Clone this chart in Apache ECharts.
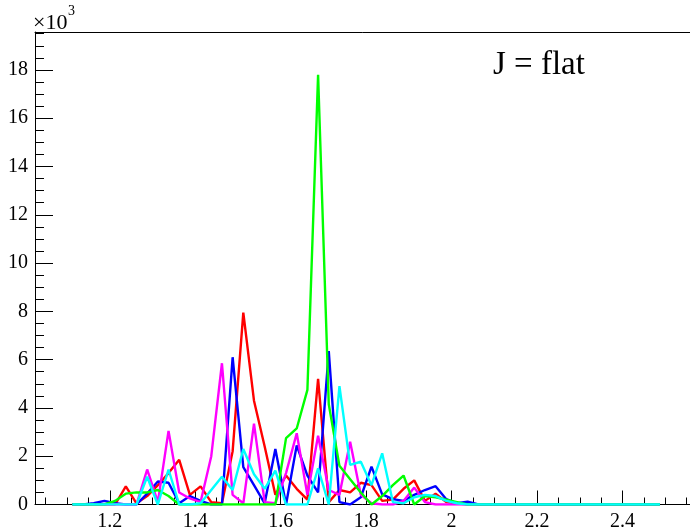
<!DOCTYPE html>
<html>
<head>
<meta charset="utf-8">
<script src="https://cdn.jsdelivr.net/npm/echarts@6/dist/echarts.min.js"></script>
<style>
html,body{margin:0;padding:0;background:#fff;}
#chart{width:690px;height:529px;}
</style>
</head>
<body>
<div id="chart"></div>
<script>
// bin centres (x)
var binCenters = [1.1125, 1.1375, 1.1625, 1.1875, 1.2125, 1.2375, 1.2625, 1.2875, 1.3125, 1.3375,
  1.3625, 1.3875, 1.4125, 1.4375, 1.4625, 1.4875, 1.5125, 1.5375, 1.5625, 1.5875,
  1.6125, 1.6375, 1.6625, 1.6875, 1.7125, 1.7375, 1.7625, 1.7875, 1.8125, 1.8375,
  1.8625, 1.8875, 1.9125, 1.9375, 1.9625, 1.9875, 2.0125, 2.0375, 2.0625, 2.0875,
  2.1125, 2.1375, 2.1625, 2.1875, 2.2125, 2.2375, 2.2625, 2.2875, 2.3125, 2.3375,
  2.3625, 2.3875, 2.4125, 2.4375, 2.4625, 2.4875];

// values in units of 10^3
var redVals = [0, 0, 0, 0, 0, 0.75, 0.05, 0.35, 0.8, 1.3,
  1.85, 0.4, 0.75, 0.1, 0.05, 2.2, 7.95, 4.3, 2.4, 0.4,
  1.2, 0.65, 0.2, 5.2, 0.1, 0.6, 0.5, 0.9, 0.8, 0.15,
  0.2, 0.65, 1.0, 0.15, 0.45, 0.1, 0.05, 0, 0, 0,
  0, 0, 0, 0, 0, 0, 0, 0, 0, 0,
  0, 0, 0, 0, 0, 0];
var greenVals = [0, 0, 0, 0, 0.15, 0.45, 0.5, 0.5, 0.6, 0.35,
  0, 0, 0, 0, 0, 0, 0, 0, 0, 0,
  2.75, 3.15, 4.75, 17.8, 4.15, 1.6, 1.05, 0.5, 0, 0.35,
  0.8, 1.2, 0, 0.35, 0.3, 0.2, 0.1, 0, 0, 0,
  0, 0, 0, 0, 0, 0, 0, 0, 0, 0,
  0, 0, 0, 0, 0, 0];
var blueVals = [0, 0, 0.05, 0.15, 0.05, 0, 0, 0.45, 0.95, 0.9,
  0.05, 0.35, 0.15, 0, 0, 6.1, 1.55, 0.8, 0.05, 2.3,
  0, 2.45, 1.2, 0.5, 6.35, 0.1, 0, 0.3, 1.57, 0.42,
  0.22, 0.15, 0.4, 0.6, 0.76, 0.22, 0.05, 0.12, 0, 0,
  0, 0, 0, 0, 0, 0, 0, 0, 0, 0,
  0, 0, 0, 0, 0, 0];
var magentaVals = [0, 0, 0, 0, 0, 0, 0, 1.45, 0.1, 3.05,
  0.5, 0.25, 0.1, 2.0, 5.85, 0.4, 0.05, 3.35, 0.1, 0.05,
  1.3, 2.95, 0.4, 2.85, 0.6, 0.4, 2.6, 0.4, 0.05, 0,
  0, 0.15, 0.7, 0.1, 0, 0, 0, 0, 0, 0,
  0, 0, 0, 0, 0, 0, 0, 0, 0, 0,
  0, 0, 0, 0, 0, 0];
var cyanVals = [0, 0, 0, 0, 0, 0, 0, 1.15, 0, 1.45,
  0, 0, 0.05, 0.6, 1.15, 0.6, 2.3, 1.25, 0.65, 1.4,
  0, 0, 0, 1.5, 0, 4.9, 1.64, 1.77, 0.8, 2.12,
  0.1, 0.05, 0.3, 0.4, 0.35, 0.15, 0.05, 0, 0, 0,
  0, 0, 0, 0, 0, 0, 0, 0, 0, 0,
  0, 0, 0, 0, 0, 0];

// tick labels / tick positions
var xMajorTicks = [1.2, 1.4, 1.6, 1.8, 2.0, 2.2, 2.4];
var xMinorTicks = [1.05, 1.1, 1.15, 1.25, 1.3, 1.35, 1.45, 1.5, 1.55, 1.65, 1.7, 1.75,
  1.85, 1.9, 1.95, 2.05, 2.1, 2.15, 2.25, 2.3, 2.35, 2.45, 2.5, 2.55];
var yMajorTicks = [0, 2, 4, 6, 8, 10, 12, 14, 16, 18];
var yMinorTicks = [0.5, 1, 1.5, 2.5, 3, 3.5, 4.5, 5, 5.5, 6.5, 7, 7.5, 8.5, 9, 9.5,
  10.5, 11, 11.5, 12.5, 13, 13.5, 14.5, 15, 15.5, 16.5, 17, 17.5, 18.5, 19, 19.5];

var seriesDefs = [
  {name: 'red', color: '#ff0000', vals: redVals},
  {name: 'blue', color: '#0000ff', vals: blueVals},
  {name: 'magenta', color: '#ff00ff', vals: magentaVals},
  {name: 'green', color: '#00ff00', vals: greenVals},
  {name: 'cyan', color: '#00ffff', vals: cyanVals}
];

var X_MIN = 1.025, X_MAX = 2.6, Y_MIN = 0, Y_MAX = 19.57;
var FONT = 'Liberation Serif';
var gridBox = {left: 35, top: 32, width: 673, height: 472.5};

var chart = echarts.init(document.getElementById('chart'), null, {renderer: 'canvas'});

var option = {
  animation: false,
  backgroundColor: '#ffffff',
  grid: [
    Object.assign({containLabel: false, outerBoundsMode: 'none'}, gridBox),
    Object.assign({containLabel: false, outerBoundsMode: 'none'}, gridBox)
  ],
  xAxis: [
    {
      type: 'value', gridIndex: 0, position: 'bottom', min: X_MIN, max: X_MAX,
      axisLine: {show: true, onZero: false, lineStyle: {color: '#000', width: 1}},
      axisTick: {show: true, inside: true, length: 14, customValues: xMajorTicks, lineStyle: {color: '#000', width: 1}},
      axisLabel: {show: true, customValues: xMajorTicks, margin: 7, color: '#000', fontFamily: FONT, fontSize: 20,
        formatter: function (v) { return String(Math.round(v * 10) / 10); }},
      splitLine: {show: false}
    },
    {
      type: 'value', gridIndex: 0, position: 'top', min: X_MIN, max: X_MAX,
      axisLine: {show: true, onZero: false, lineStyle: {color: '#000', width: 1}},
      axisTick: {show: false}, axisLabel: {show: false}, splitLine: {show: false}
    },
    {
      type: 'value', gridIndex: 1, position: 'bottom', min: X_MIN, max: X_MAX,
      axisLine: {show: false, onZero: false},
      axisTick: {show: true, inside: true, length: 7, customValues: xMinorTicks, lineStyle: {color: '#000', width: 1}},
      axisLabel: {show: false}, splitLine: {show: false}
    }
  ],
  yAxis: [
    {
      type: 'value', gridIndex: 0, position: 'left', min: Y_MIN, max: Y_MAX,
      axisLine: {show: true, onZero: false, lineStyle: {color: '#000', width: 1}},
      axisTick: {show: true, inside: true, length: 18, customValues: yMajorTicks, lineStyle: {color: '#000', width: 1}},
      axisLabel: {show: true, customValues: yMajorTicks, margin: 7, color: '#000', fontFamily: FONT, fontSize: 20},
      splitLine: {show: false}
    },
    {
      type: 'value', gridIndex: 1, position: 'left', min: Y_MIN, max: Y_MAX,
      axisLine: {show: false, onZero: false},
      axisTick: {show: true, inside: true, length: 9, customValues: yMinorTicks, lineStyle: {color: '#000', width: 1}},
      axisLabel: {show: false}, splitLine: {show: false}
    }
  ],
  graphic: [
    {type: 'text', left: 33, top: 12, style: {text: '\u00d710', font: '22px "Liberation Serif"', fill: '#000'}},
    {type: 'text', left: 68, top: 4, style: {text: '3', font: '14px "Liberation Serif"', fill: '#000'}},
    {type: 'text', left: 493, top: 49, style: {text: 'J = flat', font: '33px "Liberation Serif"', fill: '#000'}}
  ],
  series: seriesDefs.map(function (s) {
    return {
      name: s.name, type: 'line', xAxisIndex: 0, yAxisIndex: 0,
      data: binCenters.map(function (x, i) { return [x, s.vals[i]]; }),
      showSymbol: false, symbol: 'none', clip: true,
      lineStyle: {color: s.color, width: 2.4},
      itemStyle: {color: s.color}
    };
  })
};
chart.setOption(option);
</script>
</body>
</html>
